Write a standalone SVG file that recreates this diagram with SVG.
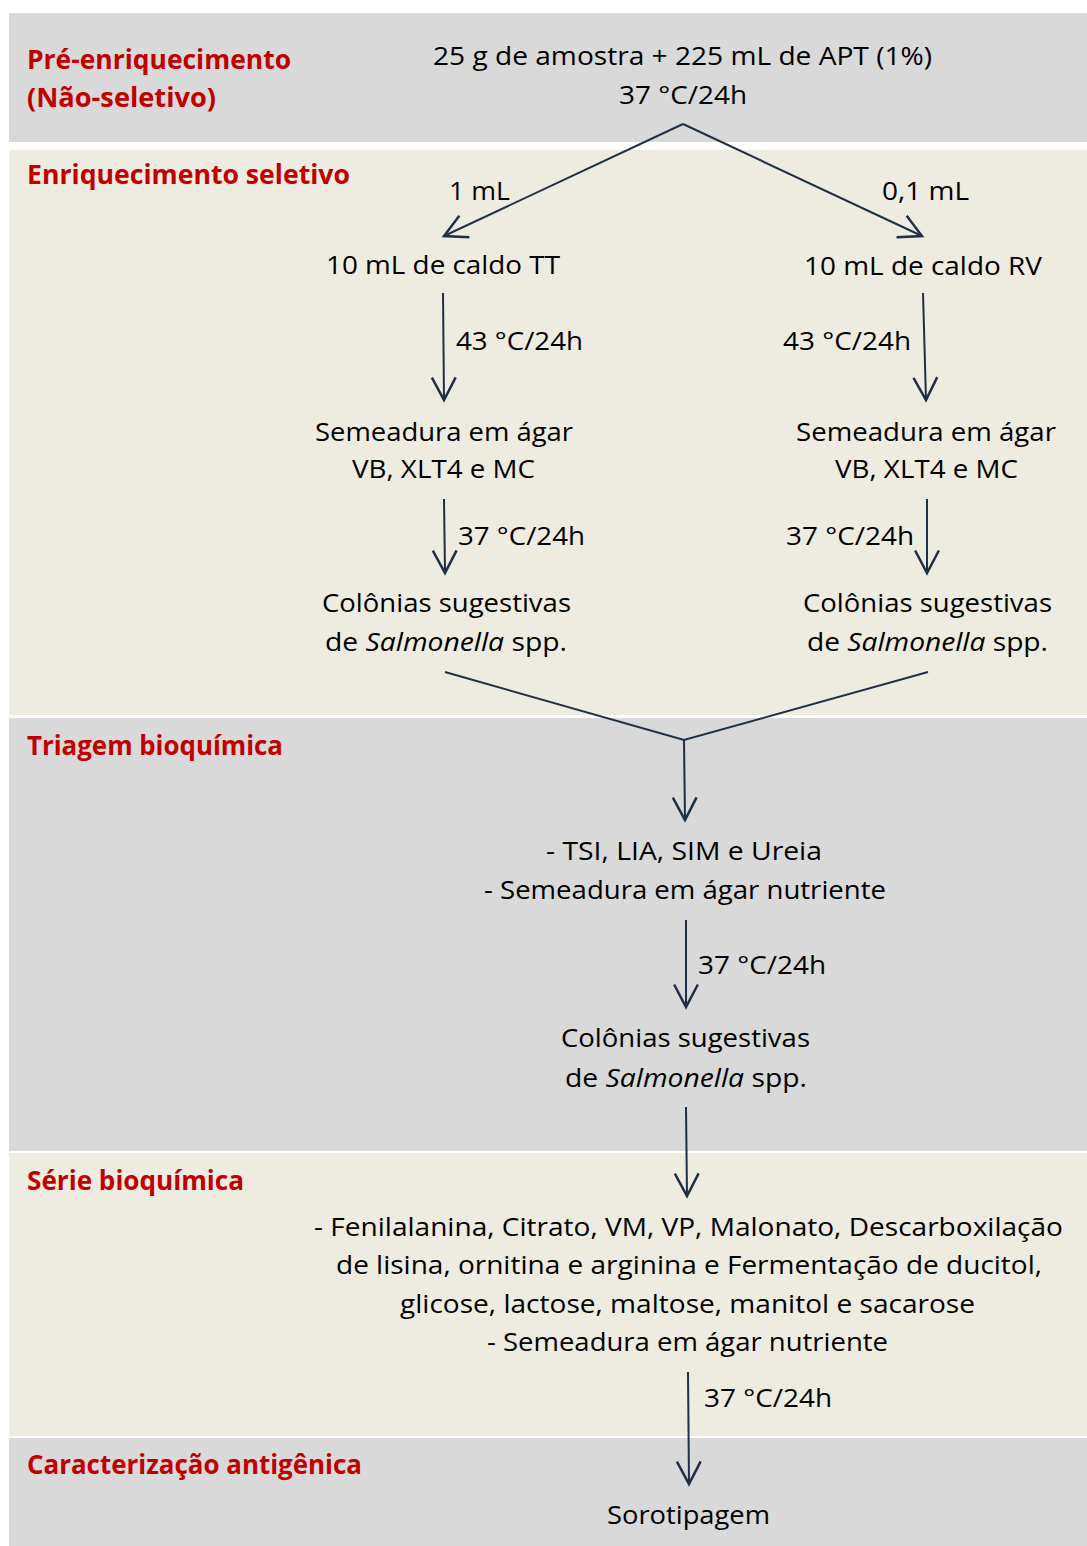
<svg xmlns="http://www.w3.org/2000/svg" width="1087" height="1546" viewBox="0 0 1087 1546">
<style>
.t{font-family:"Open Sans","Noto Sans","Liberation Sans",sans-serif;font-size:25px;fill:#000}
.c{text-anchor:middle}
.h{font-family:"Open Sans","Noto Sans","Liberation Sans",sans-serif;font-size:26px;font-weight:700;fill:#C00000}
.gray{fill:#D9D9D9}
.beige{fill:#EEECE1}
.ln{stroke:#1F2F45;stroke-width:2;fill:none}
</style>
<defs>
<marker id="ah" markerUnits="userSpaceOnUse" markerWidth="30" markerHeight="30" viewBox="-20 -12 24 24" refX="0" refY="0" orient="auto">
<path d="M-18,-9.5 L0,0 L-18,9.5" fill="none" stroke="#1F2F45" stroke-width="2"/>
</marker>
</defs>
<rect width="1087" height="1546" fill="#FFFFFF"/>
<g id="bands">
<rect class="gray" x="9" y="13" width="1078" height="129"/>
<rect class="beige" x="9" y="150" width="1078" height="565"/>
<rect class="gray" x="9" y="718" width="1078" height="433"/>
<rect class="beige" x="9" y="1153" width="1078" height="283"/>
<rect class="gray" x="9" y="1438" width="1078" height="108"/>
</g>
<g id="headings">
<text class="h" x="27" y="69" textLength="264" lengthAdjust="spacingAndGlyphs">Pré-enriquecimento</text>
<text class="h" x="27" y="107" textLength="189" lengthAdjust="spacingAndGlyphs">(Não-seletivo)</text>
<text class="h" x="27" y="184" textLength="323" lengthAdjust="spacingAndGlyphs">Enriquecimento seletivo</text>
<text class="h" x="27" y="755" textLength="256" lengthAdjust="spacingAndGlyphs">Triagem bioquímica</text>
<text class="h" x="27" y="1190" textLength="217" lengthAdjust="spacingAndGlyphs">Série bioquímica</text>
<text class="h" x="27" y="1474" textLength="335" lengthAdjust="spacingAndGlyphs">Caracterização antigênica</text>
</g>
<g id="connectors">
<line class="ln" x1="683" y1="124" x2="444" y2="236" marker-end="url(#ah)"/>
<line class="ln" x1="683" y1="124" x2="922" y2="236" marker-end="url(#ah)"/>
<line class="ln" x1="443" y1="293" x2="444" y2="400" marker-end="url(#ah)"/>
<line class="ln" x1="923" y1="293" x2="926" y2="400" marker-end="url(#ah)"/>
<line class="ln" x1="444" y1="499" x2="445" y2="573" marker-end="url(#ah)"/>
<line class="ln" x1="927" y1="499" x2="927" y2="573" marker-end="url(#ah)"/>
<polyline class="ln" points="445,672 684,740 928,672"/>
<line class="ln" x1="684" y1="740" x2="685" y2="820" marker-end="url(#ah)"/>
<line class="ln" x1="686" y1="920" x2="686" y2="1007" marker-end="url(#ah)"/>
<line class="ln" x1="686" y1="1107" x2="687" y2="1196" marker-end="url(#ah)"/>
<line class="ln" x1="688" y1="1372" x2="689" y2="1484" marker-end="url(#ah)"/>
</g>
<g id="n-pre">
<text class="t" x="433" y="65" textLength="499" lengthAdjust="spacingAndGlyphs">25 g de amostra + 225 mL de APT (1%)</text>
<text class="t" x="619" y="104" textLength="128" lengthAdjust="spacingAndGlyphs">37 °C/24h</text>
</g>
<g id="lbl-1ml"><text class="t" x="449" y="200" textLength="61" lengthAdjust="spacingAndGlyphs">1 mL</text></g>
<g id="lbl-01ml"><text class="t" x="882" y="200" textLength="87" lengthAdjust="spacingAndGlyphs">0,1 mL</text></g>
<g id="n-tt"><text class="t" x="326" y="274" textLength="234" lengthAdjust="spacingAndGlyphs">10 mL de caldo TT</text></g>
<g id="n-rv"><text class="t" x="804" y="275" textLength="238" lengthAdjust="spacingAndGlyphs">10 mL de caldo RV</text></g>
<g id="lbl-43-l"><text class="t" x="456" y="350" textLength="127" lengthAdjust="spacingAndGlyphs">43 °C/24h</text></g>
<g id="lbl-43-r"><text class="t" x="783" y="350" textLength="128" lengthAdjust="spacingAndGlyphs">43 °C/24h</text></g>
<g id="n-sem-l">
<text class="t" x="315" y="441" textLength="258" lengthAdjust="spacingAndGlyphs">Semeadura em ágar</text>
<text class="t" x="352" y="478" textLength="183" lengthAdjust="spacingAndGlyphs">VB, XLT4 e MC</text>
</g>
<g id="n-sem-r">
<text class="t" x="796" y="441" textLength="260" lengthAdjust="spacingAndGlyphs">Semeadura em ágar</text>
<text class="t" x="835" y="478" textLength="183" lengthAdjust="spacingAndGlyphs">VB, XLT4 e MC</text>
</g>
<g id="lbl-37-l"><text class="t" x="458" y="545" textLength="127" lengthAdjust="spacingAndGlyphs">37 °C/24h</text></g>
<g id="lbl-37-r"><text class="t" x="786" y="545" textLength="128" lengthAdjust="spacingAndGlyphs">37 °C/24h</text></g>
<g id="n-col-l">
<text class="t" x="322" y="612" textLength="249" lengthAdjust="spacingAndGlyphs">Colônias sugestivas</text>
<text class="t" x="325" y="651" textLength="242" lengthAdjust="spacingAndGlyphs">de <tspan font-style="italic">Salmonella</tspan> spp.</text>
</g>
<g id="n-col-r">
<text class="t" x="803" y="612" textLength="249" lengthAdjust="spacingAndGlyphs">Colônias sugestivas</text>
<text class="t" x="807" y="651" textLength="241" lengthAdjust="spacingAndGlyphs">de <tspan font-style="italic">Salmonella</tspan> spp.</text>
</g>
<g id="n-triagem">
<text class="t" x="546" y="860" textLength="276" lengthAdjust="spacingAndGlyphs">- TSI, LIA, SIM e Ureia</text>
<text class="t" x="484" y="899" textLength="402" lengthAdjust="spacingAndGlyphs">- Semeadura  em ágar nutriente</text>
</g>
<g id="lbl-37-m"><text class="t" x="698" y="974" textLength="128" lengthAdjust="spacingAndGlyphs">37 °C/24h</text></g>
<g id="n-col-m">
<text class="t" x="561" y="1047" textLength="249" lengthAdjust="spacingAndGlyphs">Colônias sugestivas</text>
<text class="t" x="565" y="1087" textLength="242" lengthAdjust="spacingAndGlyphs">de <tspan font-style="italic">Salmonella</tspan> spp.</text>
</g>
<g id="n-serie">
<text class="t" x="314" y="1236" textLength="749" lengthAdjust="spacingAndGlyphs">- Fenilalanina, Citrato, VM, VP, Malonato, Descarboxilação</text>
<text class="t" x="336" y="1274" textLength="706" lengthAdjust="spacingAndGlyphs">de lisina, ornitina e arginina e Fermentação de ducitol,</text>
<text class="t" x="400" y="1313" textLength="575" lengthAdjust="spacingAndGlyphs">glicose, lactose, maltose, manitol e sacarose</text>
<text class="t" x="487" y="1351" textLength="401" lengthAdjust="spacingAndGlyphs">- Semeadura  em ágar nutriente</text>
</g>
<g id="lbl-37-b"><text class="t" x="704" y="1407" textLength="128" lengthAdjust="spacingAndGlyphs">37 °C/24h</text></g>
<g id="n-soro"><text class="t" x="607" y="1524" textLength="163" lengthAdjust="spacingAndGlyphs">Sorotipagem</text></g>
</svg>
